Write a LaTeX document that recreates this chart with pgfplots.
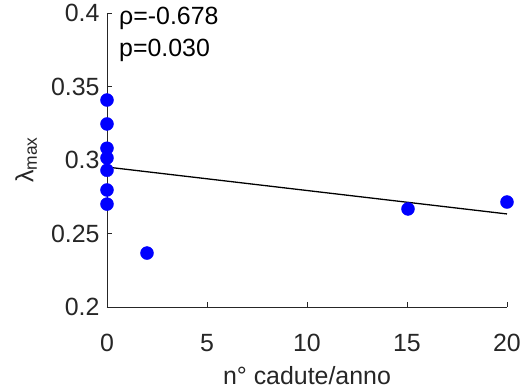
\documentclass[border=0pt]{standalone}
\usepackage{fontspec}
\setmainfont{Liberation Sans}
\usepackage{pgfplots}
\pgfplotsset{compat=1.18}
\usetikzlibrary{calc}
\definecolor{axgray}{RGB}{38,38,38}
\begin{document}
\begin{tikzpicture}
\begin{axis}[
  name=ax,
  scale only axis,
  width=400bp, height=294bp,
  xmin=0, xmax=20, ymin=0.2, ymax=0.4,
  axis x line*=bottom, axis y line*=left,
  axis line style={axgray, line width=0.6pt},
  tick style={axgray, line width=0.6pt},
  tick align=inside,
  major tick length=5bp,
  xtick={0,5,10,15,20},
  ytick={0.2,0.25,0.3,0.35,0.4},
  yticklabels={0.2,0.25,0.3,0.35,0.4},
  xticklabels={0,5,10,15,20},
  ticklabel style={font=\fontsize{25}{30}\selectfont, text=axgray},
  xticklabel style={yshift=-24bp},
  yticklabel style={xshift=-4bp},
  xlabel={n° cadute/anno},
  ylabel={λ\textsubscript{max}},
  label style={font=\fontsize{25}{30}\selectfont, text=axgray},
  xlabel style={yshift=-10bp, inner sep=1bp},
  ylabel style={yshift=7bp},
  clip=false,
]
\addplot[only marks, mark=*, mark size=6.5bp, mark options={fill=blue, draw=blue}, color=blue]
coordinates {
(0,0.3408) (0,0.3245) (0,0.308) (0,0.3014) (0,0.293) (0,0.2796) (0,0.270)
(2,0.2367) (15.05,0.2667) (20,0.2714)
};
\addplot[black, line width=1.3pt] coordinates {(0,0.2952) (20,0.2633)};
\node[anchor=north west, align=left, font=\fontsize{25}{32}\selectfont, inner sep=0pt] at (rel axis cs:0.03,1.02) {ρ=-0.678\\p=0.030};
\end{axis}
\path[use as bounding box] ($(ax.south west)+(-107bp,-82bp)$) rectangle ++(525bp,389bp);
\end{tikzpicture}
\end{document}
